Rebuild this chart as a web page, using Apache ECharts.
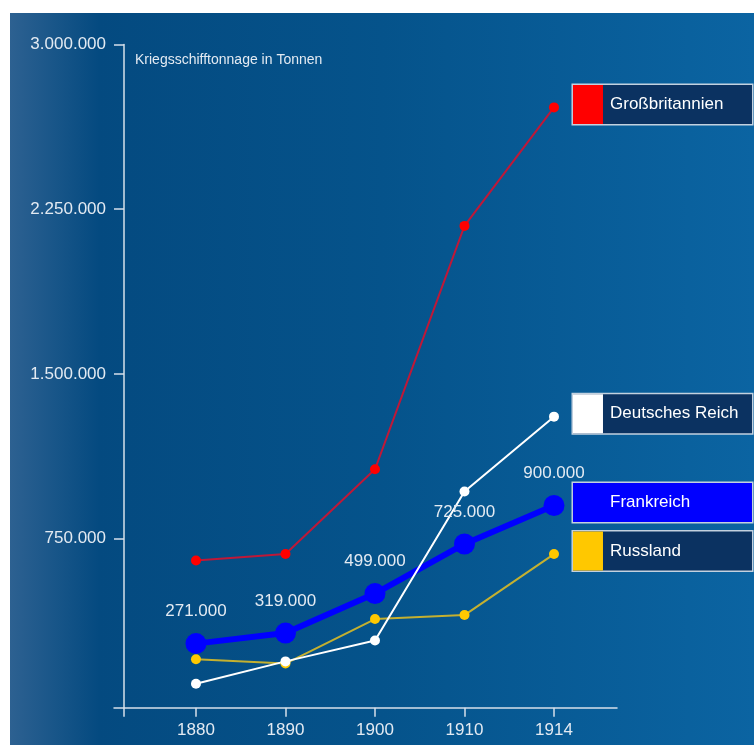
<!DOCTYPE html>
<html>
<head>
<meta charset="utf-8">
<script src="https://cdn.jsdelivr.net/npm/echarts@6/dist/echarts.min.js"></script>
<style>
html,body{margin:0;padding:0;background:#fff;}
#chart{width:754px;height:745px;}
</style>
</head>
<body>
<div id="chart"></div>
<script>
const years = ['1880', '1890', '1900', '1910', '1914'];
const nameGB = 'Großbritannien';
const nameDE = 'Deutsches Reich';
const nameFR = 'Frankreich';
const nameRU = 'Russland';
const valuesGB = [650000, 679000, 1065000, 2174000, 2714000];
const valuesDE = [88000, 190000, 285000, 964000, 1305000];
const valuesFR = [271000, 319000, 499000, 725000, 900000];
const valuesRU = [200000, 180000, 383000, 401000, 679000];
const yTickValues = [750000, 1500000, 2250000, 3000000];
const yAxisTitle = 'Kriegsschifftonnage in Tonnen';

const FONT = '"Liberation Sans", Arial, sans-serif';
const TXT = '#e3eaf2';
const AXIS = '#d6e0ea';
const NAVY = '#0b3261';

function fmt(n) {
  return String(n).replace(/\B(?=(\d{3})+(?!\d))/g, '.');
}
function toPoints(arr) {
  return arr.map((v, i) => [i, v]);
}
function endBox(name, swatch, bg) {
  return {
    show: true,
    distance: 16,
    offset: [3, -3],
    formatter: '{sw|}{nm|' + name + '}',
    backgroundColor: bg,
    borderColor: '#c3d1df',
    borderWidth: 1.5,
    padding: 0,
    rich: {
      sw: { width: 30, height: 39, backgroundColor: swatch },
      nm: { width: 142, height: 39, lineHeight: 39, padding: [0, 0, 0, 7],
            color: '#ffffff', fontSize: 17, fontFamily: FONT }
    }
  };
}

const chart = echarts.init(document.getElementById('chart'), null, { renderer: 'canvas' });

const X0 = -0.804; // position of the y axis in x units

chart.setOption({
  animation: false,
  backgroundColor: '#ffffff',
  graphic: [{
    type: 'rect',
    silent: true,
    z: -10,
    shape: { x: 10, y: 13, width: 744, height: 732 },
    style: {
      fill: new echarts.graphic.LinearGradient(0, 0, 1, 0, [
        { offset: 0, color: '#2d6191' },
        { offset: 0.12, color: '#044a80' },
        { offset: 0.5, color: '#05538b' },
        { offset: 1, color: '#0b64a2' }
      ])
    }
  }],
  title: {
    text: yAxisTitle,
    left: 135,
    top: 53,
    padding: 0,
    textStyle: { color: TXT, fontSize: 14, fontWeight: 'normal', fontFamily: FONT }
  },
  grid: { left: 114, right: 137, top: 44.6, bottom: 37.3, containLabel: false },
  xAxis: {
    type: 'value',
    min: -0.916,
    max: 4.704,
    splitLine: { show: false },
    axisLine: { onZero: false, lineStyle: { color: AXIS, width: 1.5 } },
    axisTick: { show: true, length: 9, customValues: [X0, 0, 1, 2, 3, 4],
                lineStyle: { color: AXIS, width: 1.5 } },
    axisLabel: { customValues: [0, 1, 2, 3, 4], margin: 14,
                 formatter: v => years[Math.round(v)],
                 color: TXT, fontSize: 17, fontFamily: FONT }
  },
  yAxis: {
    type: 'value',
    min: -21000,
    max: 3000000,
    offset: -10,
    splitLine: { show: false },
    axisLine: { show: true, onZero: false, lineStyle: { color: AXIS, width: 1.5 } },
    axisTick: { show: true, length: 10, customValues: yTickValues,
                lineStyle: { color: AXIS, width: 1.5 } },
    axisLabel: { customValues: yTickValues, margin: 18, formatter: v => fmt(v),
                 color: TXT, fontSize: 17, fontFamily: FONT }
  },
  series: [
    {
      name: nameGB, type: 'line', data: toPoints(valuesGB),
      symbol: 'circle', symbolSize: 10,
      lineStyle: { color: '#bf1838', width: 2 },
      itemStyle: { color: '#ff0000' },
      endLabel: endBox(nameGB, '#ff0000', NAVY)
    },
    {
      name: nameRU, type: 'line', data: toPoints(valuesRU),
      symbol: 'circle', symbolSize: 10,
      lineStyle: { color: '#c4b030', width: 2 },
      itemStyle: { color: '#ffc800' },
      endLabel: endBox(nameRU, '#ffc800', NAVY)
    },
    {
      name: nameFR, type: 'line', data: toPoints(valuesFR),
      symbol: 'circle', symbolSize: 21,
      lineStyle: { color: '#0000ff', width: 6 },
      itemStyle: { color: '#0000ff' },
      label: { show: true, position: 'top', distance: 13,
               formatter: p => fmt(p.value[1]),
               color: TXT, fontSize: 17, fontFamily: FONT },
      endLabel: endBox(nameFR, '#0000ff', '#0000ff')
    },
    {
      name: nameDE, type: 'line', data: toPoints(valuesDE),
      symbol: 'circle', symbolSize: 10,
      lineStyle: { color: '#ffffff', width: 2 },
      itemStyle: { color: '#ffffff' },
      endLabel: endBox(nameDE, '#ffffff', NAVY)
    }
  ]
});
</script>
</body>
</html>
